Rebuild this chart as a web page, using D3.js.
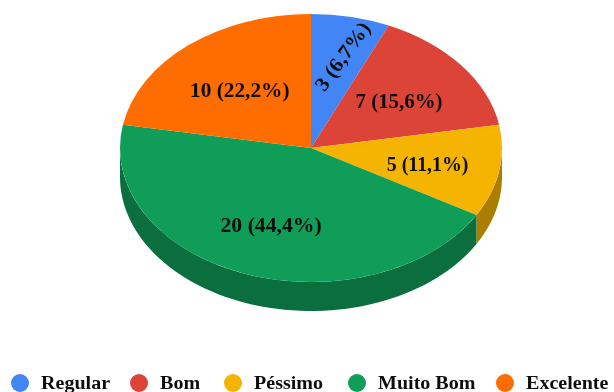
<!DOCTYPE html>
<html><head><meta charset="utf-8">
<script src="https://cdn.jsdelivr.net/npm/d3@7/dist/d3.min.js"></script>
<style>html,body{margin:0;padding:0;background:#fff}svg{display:block}
text{font-family:"Liberation Serif",serif;font-weight:bold;fill:#111}</style>
</head><body><svg id="c" width="614" height="392">
<defs><filter id="soft" x="-5%" y="-20%" width="110%" height="140%"><feGaussianBlur stdDeviation="0.45"/></filter></defs>
</svg>
<script>
const categories=["Regular","Bom","Péssimo","Muito Bom","Excelente"];
const values=[3,7,5,20,10];
const percents=["6,7","15,6","11,1","44,4","22,2"];
const colors=["#4285f4","#db4437","#f4b400","#0f9d58","#ff6d00"];
const sideColors=["#2e5dab","#99302a","#ab7e00","#0b6e3e","#b34c00"];

const cx=311,cy=148,rx=191,ry=134,depth=29;
const svg=d3.select("#c");
const pie=d3.pie().sort(null).value(d=>d)(values);
const px=d3.scaleLinear().domain([-1,1]).range([cx-rx,cx+rx]);
const py=d3.scaleLinear().domain([-1,1]).range([cy-ry,cy+ry]);
const ellipse=(a,off=0)=>[px(Math.sin(a)),py(-Math.cos(a))+off];

// side wall (front half only)
const line=d3.line();
pie.forEach((s,i)=>{
  const a0=Math.max(s.startAngle,Math.PI/2),a1=Math.min(s.endAngle,Math.PI*1.5);
  if(a1<=a0)return;
  const angs=d3.range(0,65).map(k=>a0+(a1-a0)*k/64);
  const pts=angs.map(a=>ellipse(a)).concat(angs.slice().reverse().map(a=>ellipse(a,depth)));
  svg.append("path").attr("d",line(pts)+"Z").attr("fill",sideColors[i]);
});

// top face
const arc=d3.arc().innerRadius(0).outerRadius(rx);
svg.append("g").attr("transform",`translate(${cx},${cy}) scale(1,${ry/rx})`)
  .selectAll("path").data(pie).join("path")
  .attr("d",arc).attr("fill",(d,i)=>colors[i]);

// slice labels
const labelFrac=[[.79,.70],[.585,.57],[.62,.69],[.61,.61],[.58,.565]];
const labelRot=[-54,0,0,0,0];
const labelStretch=[1.06,1.02,.97,1.06,1.04];
svg.append("g").attr("filter","url(#soft)").selectAll("text").data(pie).join("text")
  .attr("text-anchor","middle").attr("dominant-baseline","central")
  .attr("font-size",20.5)
  .attr("transform",(d,i)=>{
    const m=(d.startAngle+d.endAngle)/2;
    const x=cx+rx*labelFrac[i][0]*Math.sin(m),y=cy-ry*labelFrac[i][1]*Math.cos(m);
    return `translate(${x},${y}) rotate(${labelRot[i]}) scale(${labelStretch[i]},1)`;
  })
  .text((d,i)=>`${values[i]} (${percents[i]}%)`);

// legend
const legendDot=[20,139,233,357,505];
const lg=svg.append("g").selectAll("g").data(categories).join("g")
  .attr("transform",(d,i)=>`translate(${legendDot[i]},383)`);
lg.append("circle").attr("r",9).attr("fill",(d,i)=>colors[i]);
lg.append("text").attr("dominant-baseline","central").attr("font-size",18)
  .attr("transform","translate(21,0) scale(1.115,1)").attr("filter","url(#soft)").text(d=>d);
</script></body></html>
